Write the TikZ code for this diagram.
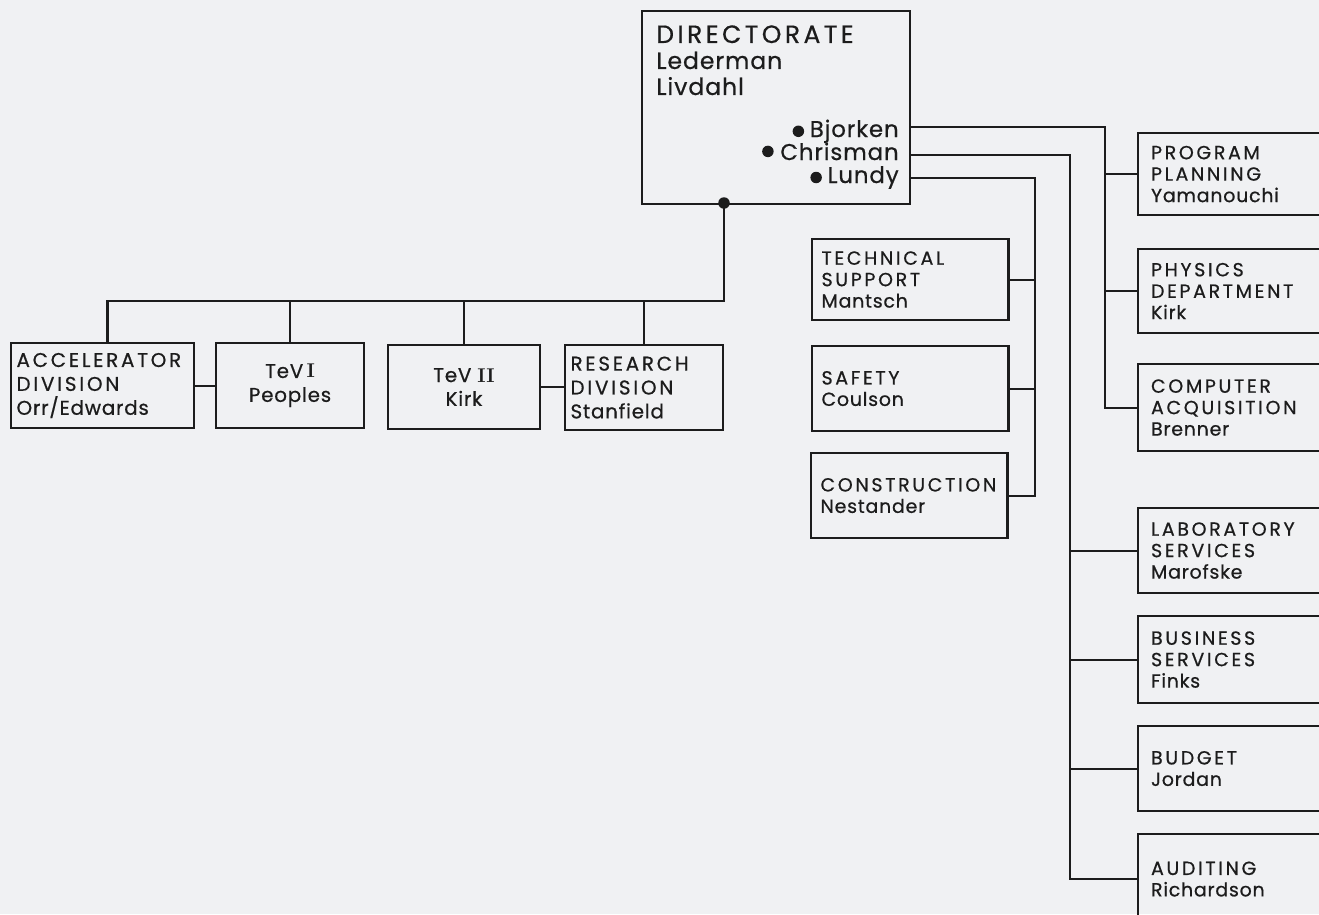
\documentclass[tikz,border=0pt]{standalone}
\usepackage{fontspec}
\newfontfamily\capfont{Poppins}[LetterSpace=14, FakeBold=0.6]
\newfontfamily\namefont{Poppins}[LetterSpace=4, FakeBold=0.6]
\newcommand\nm[1]{{\namefont #1}}
\usetikzlibrary{positioning}
\definecolor{paperGray}{RGB}{240,241,243}
\definecolor{inkBlack}{RGB}{28,28,28}
\tikzset{
  obox/.style={draw=inkBlack, line width=1.2pt, anchor=north west, inner ysep=0pt,
    inner xsep=0.19cm, align=left, text=inkBlack,
    font=\capfont\fontsize{10.8}{12.2}\selectfont},
  mbox/.style={obox, minimum width=3.93cm, text width=3.55cm},
  rbox/.style={obox, minimum width=4cm, text width=3.48cm, inner xsep=0.26cm},
  lbox/.style={obox, inner xsep=0.11cm, font=\capfont\fontsize{11.3}{13.6}\selectfont},
  dtext/.style={inner sep=0pt, align=left, text=inkBlack,
    font=\capfont\fontsize{14.2}{14.8}\selectfont},
  ntext/.style={inner sep=0pt, text=inkBlack,
    font=\namefont\fontsize{13}{14}\selectfont},
  dot/.style={circle, fill=inkBlack, inner sep=0pt, minimum size=0.23cm},
  conn/.style={draw=inkBlack, line width=1.2pt},
}

\begin{document}
\begin{tikzpicture}[x=0.02cm, y=-0.02cm]
\path[fill=paperGray, use as bounding box] (0,0) rectangle (1319,914);

%% DIRECTORATE
\node[obox, minimum width=5.36cm, minimum height=3.86cm] (dirC) at (641,10) {};
\node[dtext, anchor=north west] (dirT) at (656,25)
  {DIRECTORATE\\{\namefont\fontsize{13.4}{14.8}\selectfont Lederman}\\
   {\namefont\fontsize{13.4}{14.8}\selectfont Livdahl}};
\node[ntext, anchor=base east] (bjork) at (899,137) {Bjorken};
\node[ntext, anchor=base east] (chris) at (899,160) {Chrisman};
\node[ntext, anchor=base east] (lundy) at (899,183) {Lundy};
\node[dot, left=0.1cm of bjork] (bjDot) {};
\node[dot, left=0.12cm of chris] (chDot) {};
\node[dot, left=0.1cm of lundy] (luDot) {};
\node[dot] (dirJ) at (724,203) {};

%% BOTTOM ROW - DIVISIONS
\node[lbox, minimum width=3.66cm, minimum height=1.70cm, text width=3.44cm] (accD) at (10,342)
  {ACCELERATOR\\DIVISION\\\nm{Orr/Edwards}};
\node[lbox, minimum width=2.96cm, minimum height=1.70cm, align=center] (tevA) at (215,342)
  {\nm{TeV{\rmfamily\bfseries\,I}}\\\nm{Peoples}};
\node[lbox, minimum width=3.04cm, minimum height=1.68cm, align=center] (tevB) at (387,344)
  {\nm{TeV {\rmfamily\bfseries II}}\\\nm{Kirk}};
\node[lbox, minimum width=3.16cm, minimum height=1.70cm, text width=2.94cm] (resD) at (564,344)
  {RESEARCH\\DIVISION\\\nm{Stanfield}};

%% MIDDLE COLUMN
\node[mbox, minimum height=1.62cm] (techS) at (811,238) {TECHNICAL\\SUPPORT\\\nm{Mantsch}};
\node[mbox, minimum height=1.70cm] (safeT) at (811,345) {SAFETY\\\nm{Coulson}};
\node[mbox, minimum height=1.70cm] (constR) at (810,452) {CONSTRUCTION\\\nm{Nestander}};

%% RIGHT COLUMN
\node[rbox, minimum height=1.64cm] (progP) at (1137,132) {PROGRAM\\PLANNING\\\nm{Yamanouchi}};
\node[rbox, minimum height=1.68cm] (physD) at (1137,248) {PHYSICS\\DEPARTMENT\\\nm{Kirk}};
\node[rbox, minimum height=1.74cm] (compA) at (1137,363) {COMPUTER\\ACQUISITION\\\nm{Brenner}};
\node[rbox, minimum height=1.70cm] (labS) at (1137,507) {LABORATORY\\SERVICES\\\nm{Marofske}};
\node[rbox, minimum height=1.74cm] (busS) at (1137,615) {BUSINESS\\SERVICES\\\nm{Finks}};
\node[rbox, minimum height=1.70cm] (budG) at (1137,725) {BUDGET\\\nm{Jordan}};
\node[rbox, minimum height=1.80cm] (audT) at (1137,833) {AUDITING\\\nm{Richardson}};

%% CONNECTORS
\coordinate (busB) at (1105,127);
\coordinate (busC) at (1070,155);
\coordinate (busL) at (1035,178);
\coordinate (busD) at (724,301);

\draw[conn] (dirC.east |- busB) -- (busB) |- (compA.west);
\foreach \n in {progP,physD}
  \draw[conn] (busB |- \n.west) -- (\n.west);

\draw[conn] (dirC.east |- busC) -- (busC) |- (audT.west);
\foreach \n in {labS,busS,budG}
  \draw[conn] (busC |- \n.west) -- (\n.west);

\draw[conn] (dirC.east |- busL) -- (busL) |- (constR.east);
\foreach \n in {techS,safeT}
  \draw[conn] (busL |- \n.east) -- (\n.east);

\draw[conn] (dirJ.center) -- (busD) -| ([xshift=0.1cm]accD.north);
\foreach \n in {tevA,tevB,resD}
  \draw[conn] (\n.north) -- (\n.north |- busD);
\draw[conn] (accD.east) -- (tevA.west);
\draw[conn] (tevB.east) -- (tevB.east -| resD.west);

\end{tikzpicture}
\end{document}
